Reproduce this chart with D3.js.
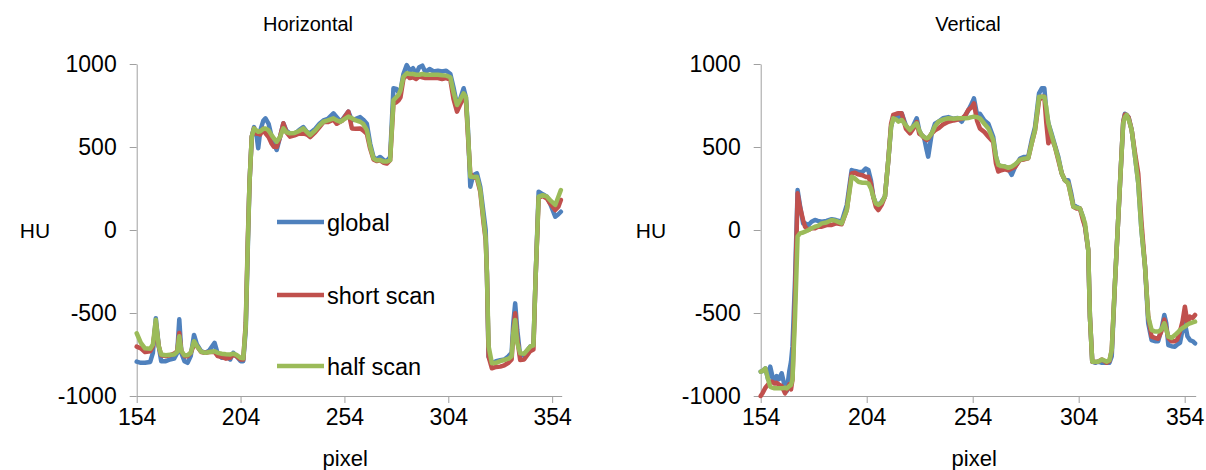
<!DOCTYPE html>
<html>
<head>
<meta charset="utf-8">
<script src="https://d3js.org/d3.v7.min.js"></script>
<style>
  html, body { margin: 0; padding: 0; background: #fff; }
  svg { display: block; font-family: 'Liberation Sans', Arial, sans-serif; }
  .axis .domain, .axis .tick line { stroke: #a0a0a0; stroke-width: 1; }
  .axis text { fill: #000; }
</style>
</head>
<body>
<div id="vis"></div>
<script>
// series names / colours (Excel style)
var seriesNames = ["global", "short scan", "half scan"];
var seriesColors = ["#4f81bd", "#c0504d", "#9bbb59"];
var xTicks = [154, 204, 254, 304, 354];
var yTicks = [-1000, -500, 0, 500, 1000];

// Horizontal profile
var pixelH = [154,156,158,160.5,161.8,163.2,164.6,165.8,168,170, 172,173.5,174.5,175.5,177,178.5,180,181.6,183,185, 187,189,191.5,193,195,197,199,200.5,202,204, 205.3,206.5,207.5,208.3,209.4,210.5,211.7,212.5,213.5,215, 216,217.5,219,220,221.4,223,224.6,226,227.8,230, 232,234.2,236,237.5,240,242,243.9,246,248.7,250.3, 251.9,253,255.9,257.6,259.5,261.6,263,264.8,266.4,268, 269.5,271.2,273,274.4,276,277.6,279,280,281,282.4, 284,285.5,287,288.5,290,291.5,293,295,297,299, 301,303,305,306.5,308.2,309.5,311.4,312.5,313.5,314.6, 316,317.8,319.4,321,322,322.6,323.4,325,327,329, 331,333,334.5,335.3,336.2,337.2,338.6,340.5,343.4,345, 346,347.5,349.5,351.5,353,355.5,357,358.2];
var globalH = [-793,-800,-800,-795,-740,-532,-700,-790,-790,-780, -775,-740,-538,-740,-790,-800,-760,-632,-690,-730, -740,-725,-680,-745,-770,-760,-780,-740,-760,-790, -790,-600,-100,283,562,620,570,492,600,660, 673,640,560,520,482,560,643,600,582,580, 600,620,590,585,610,640,660,670,703,680, 655,665,713,660,670,680,665,640,520,440, 425,440,420,415,440,854,850,830,840,940, 994,960,975,940,980,990,950,970,955,960, 955,960,940,860,753,780,854,800,600,261, 330,341,260,100,0,-261,-763,-803,-790,-785, -780,-760,-740,-560,-442,-600,-760,-750,-703,-690, -300,231,215,201,160,80,95,110];
var shortH = [-703,-713,-735,-730,-700,-560,-700,-755,-760,-755, -745,-730,-620,-730,-760,-760,-740,-690,-700,-735, -740,-735,-735,-760,-765,-775,-770,-750,-760,-780, -780,-560,-50,283,562,612,580,580,575,610, 583,560,520,502,500,560,643,590,562,570, 580,582,575,560,590,620,650,650,665,640, 652,660,713,612,610,612,600,580,490,425, 415,420,405,400,420,760,770,780,800,910, 935,915,920,910,925,920,915,915,915,915, 910,915,905,790,713,750,800,780,560,340, 320,310,230,40,-60,-261,-763,-833,-825,-823, -815,-800,-780,-620,-502,-650,-783,-780,-730,-720, -300,195,205,190,160,120,140,181];
var halfH = [-622,-680,-713,-715,-690,-540,-700,-750,-755,-752, -750,-735,-640,-730,-755,-755,-740,-670,-700,-733, -740,-735,-730,-740,-745,-748,-750,-745,-752,-770, -773,-580,-80,283,562,612,600,592,595,610, 612,600,570,553,532,560,612,590,582,585, 595,612,590,572,600,630,652,660,673,660, 652,660,683,673,660,652,640,602,502,432, 420,422,412,412,420,783,800,813,840,923, 944,940,940,935,935,940,935,935,935,935, 932,930,920,830,753,780,823,800,580,321, 320,321,241,60,-50,-261,-700,-803,-800,-790, -783,-775,-760,-620,-542,-680,-743,-745,-703,-695, -300,201,210,201,180,151,200,241];

// Vertical profile
var pixelV = [154,154.8,156.2,157.5,158.5,159.5,160.5,161.5,162.5,163.9, 165.5,166.3,167.5,168.3,169,170.2,171.4,172.5,174,174.9, 176.5,178,179.6,181,182.8,185,187.5,189.5,192.2,194.6, 196.9,198.5,200,202,203.5,204.8,206,207.1,208.3,209.5, 211,212.6,214.2,215.5,216.5,218,219,220.5,222.5,224.4, 226,227.6,228.8,229.9,231,232.3,233,234.7,236.2,237.8, 240,242.5,245,247,248.8,250.5,251.9,253.5,254.6,256, 257.4,259.5,261.4,263.7,265,266.1,267.5,269.2,270.8,272.4, 274,276.3,278.3,280.2,281.8,283.4,285.3,286.6,287.8,288.7, 289.7,291,292.8,294.4,296,297.5,299.1,300.5,301.5,303, 304.6,306,307,308.5,309.3,310.4,312,313.2,315,317.2, 318.5,319.6,321.1,323.5,325,325.8,326.6,327.5,329,330.5, 332.1,333.6,335.3,336.8,338.4,340,341.5,343,344.4,345.3, 346.3,347.8,349.4,350.5,351.8,353,354.1,355.3,356.5,357.8,358.9];
var globalV = [-853,-850,-833,-900,-823,-880,-920,-880,-900,-863, -950,-970,-850,-793,-700,-300,241,150,40,40, 30,50,60,55,50,55,65,60,50,150, 361,355,351,350,370,361,300,201,160,151, 170,201,422,620,673,690,680,703,630,590, 630,673,600,572,560,480,442,582,640,652, 673,680,670,675,652,690,720,760,793,700, 700,660,640,560,440,392,380,382,370,332, 380,430,440,440,540,620,823,854,854,720, 643,590,510,440,341,300,300,220,150,140, 130,80,20,-120,-522,-793,-800,-793,-800,-800, -800,-760,-321,281,650,700,693,680,602,450, 281,0,-221,-560,-663,-670,-670,-600,-512,-560, -693,-700,-703,-690,-680,-600,-562,-640,-663,-670,-683];
var shortV = [-1000,-984,-950,-930,-914,-914,-925,-920,-930,-940, -984,-964,-930,-960,-900,-400,221,140,60,20, 0,10,10,20,20,30,30,40,35,120, 340,345,335,330,320,321,280,201,140,120, 150,201,422,640,693,700,703,703,610,582, 610,650,580,572,555,542,550,582,600,612, 635,652,660,665,670,690,723,740,763,660, 612,590,562,530,400,352,360,365,360,370, 380,422,425,432,520,600,780,803,803,650, 522,560,502,420,341,300,281,200,140,130, 130,60,20,-120,-522,-793,-795,-793,-780,-800, -790,-723,-321,281,650,695,693,680,602,470, 340,50,-221,-522,-643,-650,-655,-610,-540,-590, -650,-670,-670,-660,-610,-550,-462,-560,-522,-530,-512];
var halfV = [-853,-850,-833,-900,-944,-950,-954,-954,-954,-954, -950,-954,-940,-934,-900,-522,-40,-20,-15,-10, 0,10,20,25,40,45,60,55,40,120, 321,310,291,285,285,281,250,201,160,151, 165,201,422,620,673,665,653,663,630,602, 625,643,600,572,560,552,555,582,625,652, 665,673,670,673,673,673,675,680,683,680, 673,640,612,542,440,392,385,382,375,382, 395,422,430,432,520,602,803,803,803,740, 643,580,502,430,341,300,281,200,140,135, 130,80,40,-120,-522,-793,-793,-793,-780,-793, -785,-723,-321,281,643,680,693,670,602,450, 281,0,-221,-522,-602,-612,-612,-600,-562,-600, -643,-650,-633,-620,-602,-590,-582,-570,-562,-556,-552];

var svg = d3.select('#vis').append('svg')
    .attr('width', 1206)
    .attr('height', 470);

var panels = [
    {title: 'Horizontal', xs: pixelH, ys: [globalH, shortH, halfH], left: 136.7, right: 561.7, xMax: 358.6, titleX: 308, huX: 35, legend: true},
    {title: 'Vertical', xs: pixelV, ys: [globalV, shortV, halfV], left: 760.7, right: 1195.7, xMax: 359.2, titleX: 968, huX: 651, legend: false}
];
var plotTop = 64, plotBottom = 396;
var plain = function(d) { return String(d).replace('\u2212', '-'); };

panels.forEach(function(p) {
    var x = d3.scaleLinear().domain([154, p.xMax]).range([p.left, p.right]);
    var y = d3.scaleLinear().domain([-1000, 1000]).range([plotBottom, plotTop]);
    var g = svg.append('g');

    g.append('g').attr('class', 'axis')
        .attr('transform', 'translate(0,' + plotBottom + ')')
        .call(d3.axisBottom(x).tickValues(xTicks).tickFormat(plain).tickSize(7).tickSizeOuter(0).tickPadding(6))
        .call(function(a) { a.selectAll('text').attr('font-size', 23); });

    g.append('g').attr('class', 'axis')
        .attr('transform', 'translate(' + p.left + ',0)')
        .call(d3.axisLeft(y).tickValues(yTicks).tickFormat(plain).tickSize(7).tickSizeOuter(0).tickPadding(13))
        .call(function(a) { a.selectAll('text').attr('font-size', 23); });

    var line = d3.line()
        .x(function(d, i) { return x(p.xs[i]); })
        .y(function(d) { return y(d); });

    p.ys.forEach(function(vals, k) {
        g.append('path')
            .attr('d', line(vals))
            .attr('fill', 'none')
            .attr('stroke', seriesColors[k])
            .attr('stroke-width', 4.5)
            .attr('stroke-linejoin', 'round')
            .attr('stroke-linecap', 'round');
    });

    g.append('text').attr('x', p.titleX).attr('y', 31)
        .attr('text-anchor', 'middle').attr('font-size', 20).text(p.title);
    g.append('text').attr('x', p.huX).attr('y', 238)
        .attr('text-anchor', 'middle').attr('font-size', 21).text('HU');
    g.append('text').attr('x', (p.left + p.right) / 2 - 4).attr('y', 466)
        .attr('text-anchor', 'middle').attr('font-size', 22).text('pixel');

    if (p.legend) {
        var ly = [222, 295, 366];
        seriesNames.forEach(function(name, k) {
            g.append('line')
                .attr('x1', 277).attr('x2', 324)
                .attr('y1', ly[k]).attr('y2', ly[k])
                .attr('stroke', seriesColors[k]).attr('stroke-width', 4.5);
            g.append('text').attr('x', 327).attr('y', ly[k] + 9)
                .attr('font-size', 23.5).text(name);
        });
    }
});
</script>
</body>
</html>
